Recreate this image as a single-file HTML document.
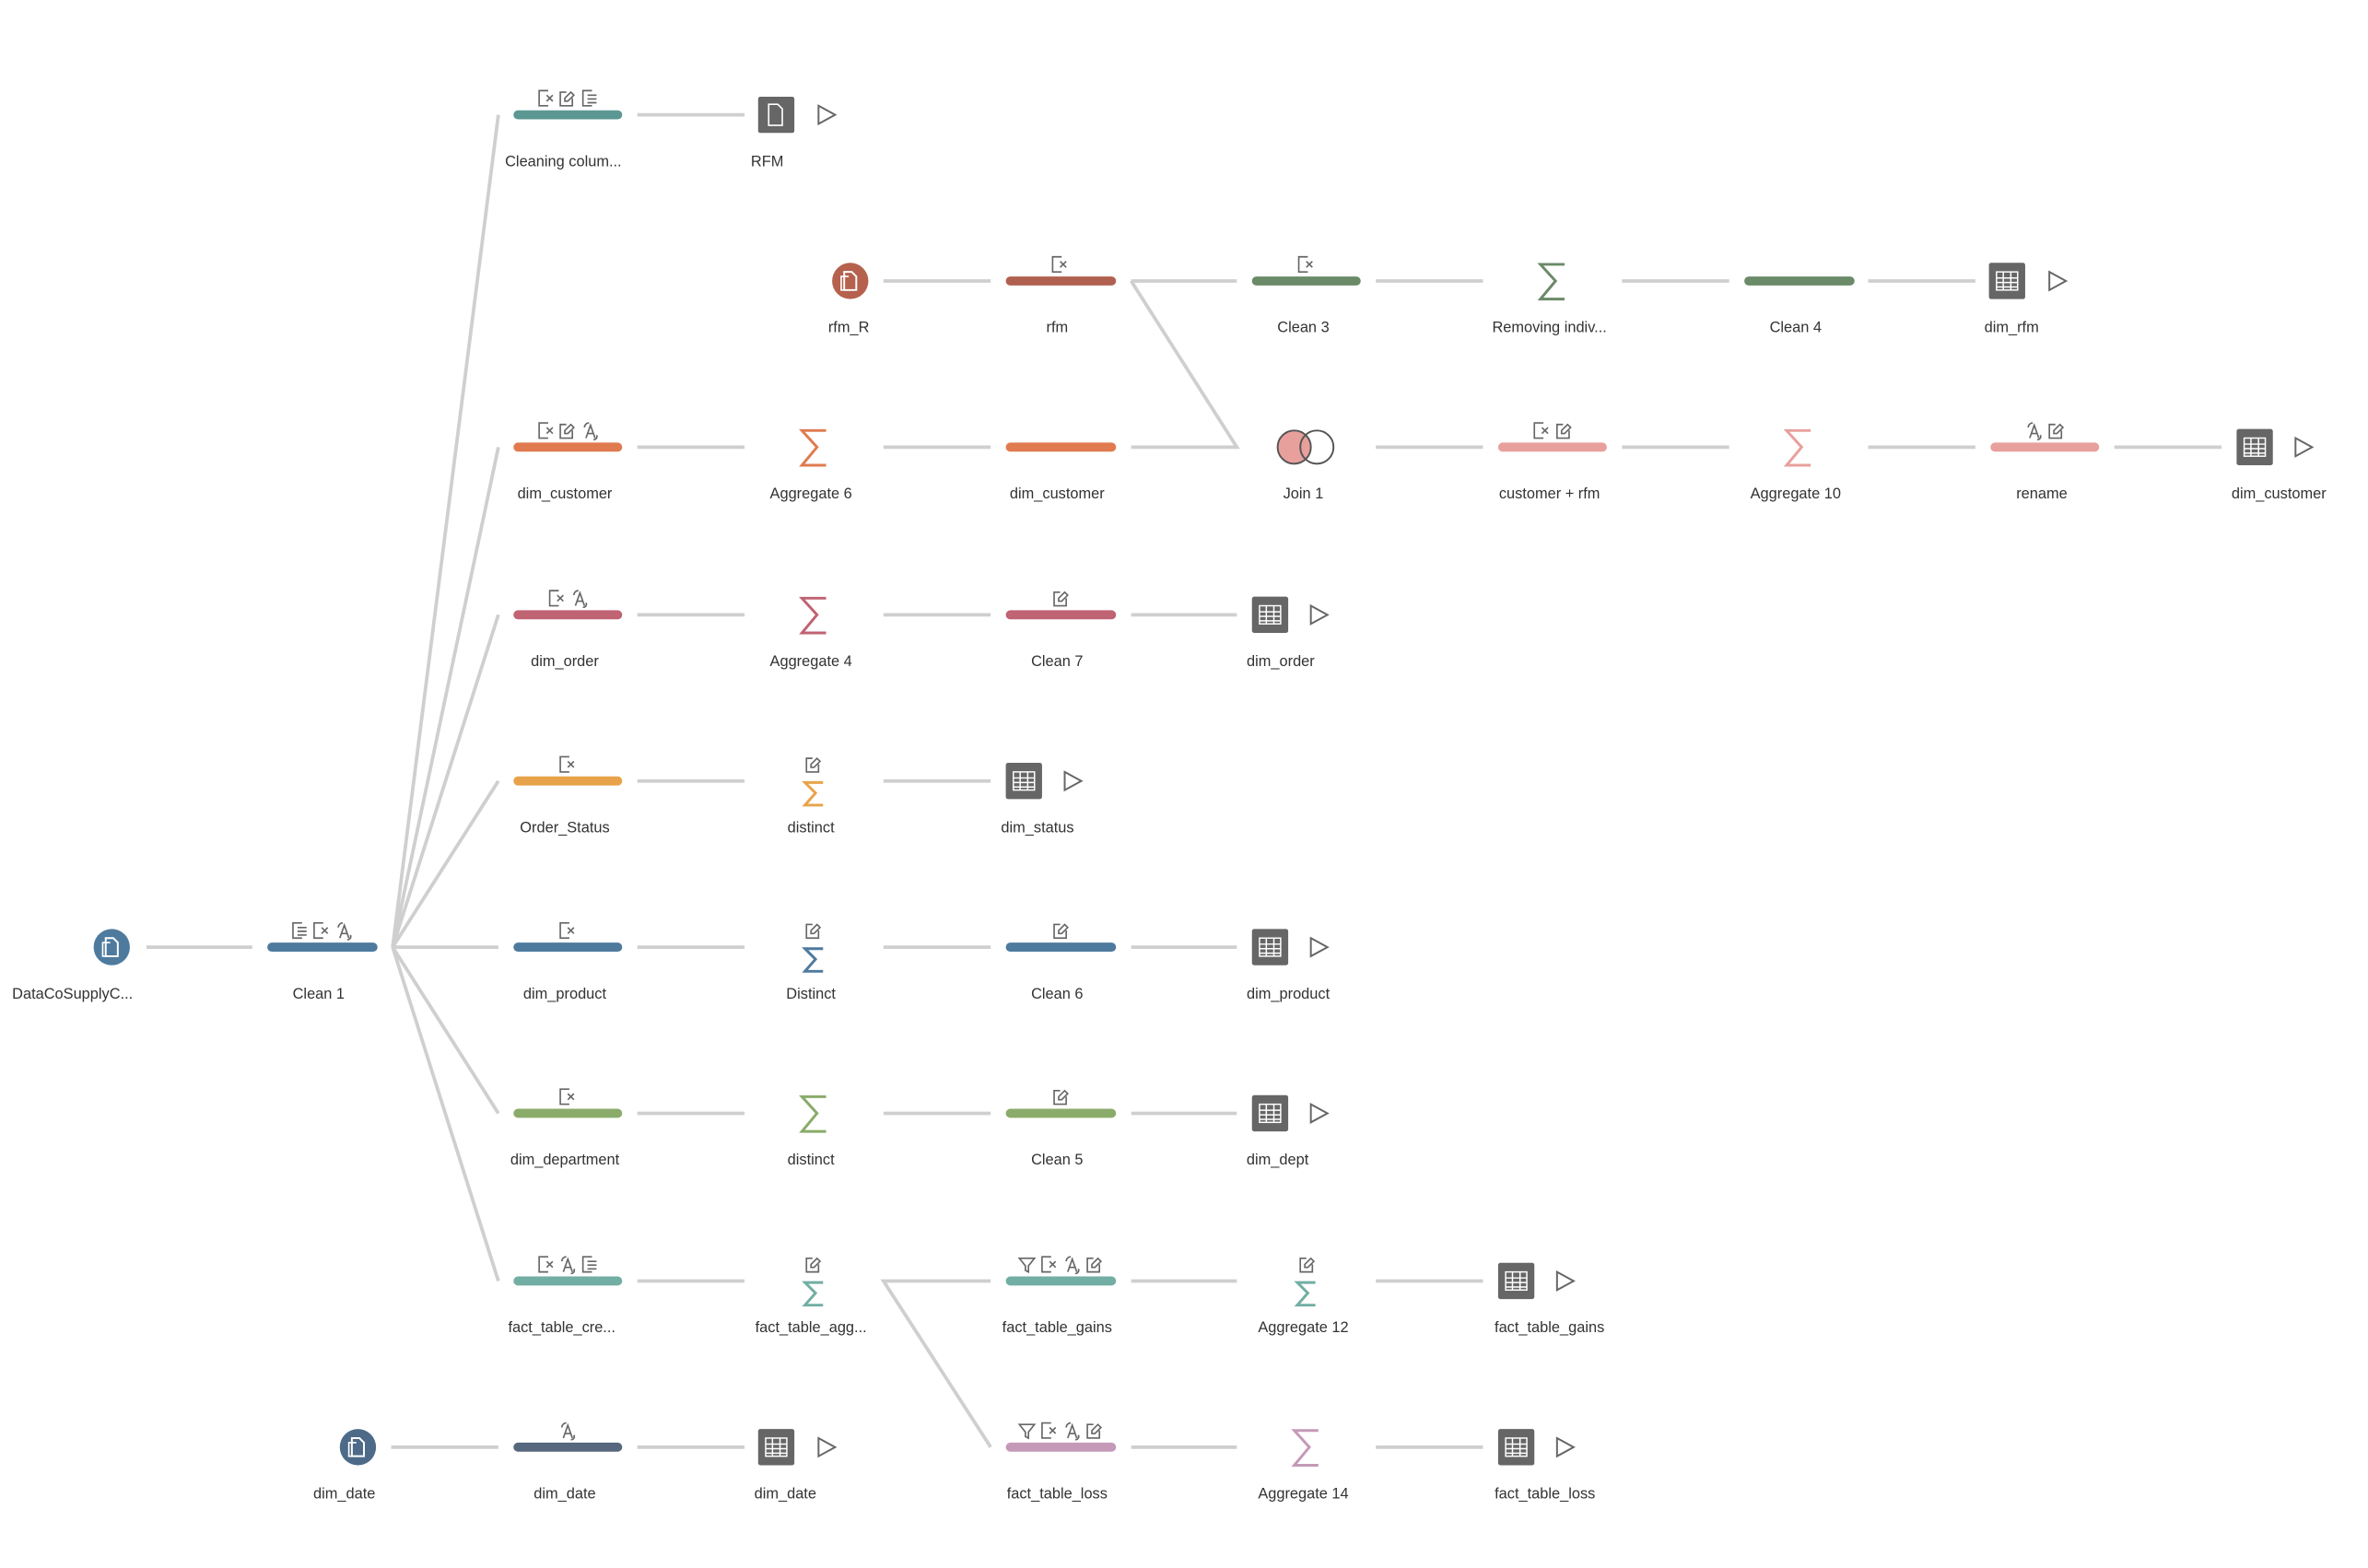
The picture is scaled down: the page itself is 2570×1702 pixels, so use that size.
<!DOCTYPE html>
<html><head><meta charset="utf-8"><style>
html,body{margin:0;padding:0;background:#fff;}
svg{display:block}
text{font-family:"Liberation Sans",sans-serif;font-size:10px;fill:#333;text-anchor:middle}
.c{stroke:#cfcfcf;stroke-width:2.3;fill:none}
.b{stroke-width:6;stroke-linecap:round;fill:none}
.i{stroke:#666;stroke-width:1;fill:none}
.s{fill:none;stroke-width:1.8;stroke-linejoin:miter}
</style></head><body>
<svg width="2570" height="1702" viewBox="0 0 1568 1038" preserveAspectRatio="none" xmlns="http://www.w3.org/2000/svg">
<defs>
<g id="ix" class="i"><path d="M6 0H0V10H6"/><path d="M5 3l4 4M9 3l-4 4"/></g>
<g id="ie" class="i"><path d="M5 1H0V10H9V6"/><path d="M3.5 7.5l5-6 1.5 1.5-5 6z"/></g>
<g id="il" class="i"><path d="M6 0H0V10H6"/><path d="M3 3h6M3 5.5h6M3 8h6"/></g>
<g id="ir" class="i"><path d="M2 10L5 1.5L8 10M3.2 7h3.6"/><path d="M1 3a3 3 0 0 1 3-3M9 8a2 2 0 0 1-2 3"/></g>
<g id="ip" class="i"><path d="M4 1H0V10H8V5"/><path d="M3 7l0-2 4-4 2 2-4 4z"/></g>
<g id="if" class="i"><path d="M0 1h10L6 6v4L4 9V6z"/></g>
<g id="out"><rect x="-12" y="-12" width="24" height="24" rx="1.5" fill="#666"/><g stroke="#fff" stroke-width="0.9" fill="none"><rect x="-7" y="-6" width="14" height="12"/><path d="M-7 -2h14M-7 1h14M-7 4h14M-2.5 -6v12M2.5 -6v12"/></g></g>
<polygon id="play" points="-5,-6 6,0 -5,6" fill="none" stroke="#666" stroke-width="1.2"/>
<g id="doc"><path d="M-4 -6h5l3 3v9h-8z" fill="none" stroke="#fff" stroke-width="1.2"/><path d="M-1 -3h-5v9h6" fill="none" stroke="#fff" stroke-width="1"/></g>
</defs>

<g class="c">
<line x1="97" y1="627" x2="167" y2="627"/>
<line x1="260" y1="627" x2="330" y2="627"/>
<line x1="260" y1="627" x2="330" y2="76"/>
<line x1="260" y1="627" x2="330" y2="296"/>
<line x1="260" y1="627" x2="330" y2="407"/>
<line x1="260" y1="627" x2="330" y2="517"/>
<line x1="260" y1="627" x2="330" y2="737"/>
<line x1="260" y1="627" x2="330" y2="848"/>
<line x1="422" y1="76" x2="493" y2="76"/>
<line x1="585" y1="186" x2="656" y2="186"/>
<line x1="749" y1="186" x2="819" y2="186"/>
<polyline points="749,186 819,296 749,296"/>
<line x1="911" y1="186" x2="982" y2="186"/>
<line x1="1074" y1="186" x2="1145" y2="186"/>
<line x1="1237" y1="186" x2="1308" y2="186"/>
<line x1="422" y1="296" x2="493" y2="296"/>
<line x1="585" y1="296" x2="656" y2="296"/>
<line x1="911" y1="296" x2="982" y2="296"/>
<line x1="1074" y1="296" x2="1145" y2="296"/>
<line x1="1237" y1="296" x2="1308" y2="296"/>
<line x1="1400" y1="296" x2="1471" y2="296"/>
<line x1="422" y1="407" x2="493" y2="407"/>
<line x1="585" y1="407" x2="656" y2="407"/>
<line x1="749" y1="407" x2="819" y2="407"/>
<line x1="422" y1="517" x2="493" y2="517"/>
<line x1="585" y1="517" x2="656" y2="517"/>
<line x1="422" y1="627" x2="493" y2="627"/>
<line x1="585" y1="627" x2="656" y2="627"/>
<line x1="749" y1="627" x2="819" y2="627"/>
<line x1="422" y1="737" x2="493" y2="737"/>
<line x1="585" y1="737" x2="656" y2="737"/>
<line x1="749" y1="737" x2="819" y2="737"/>
<line x1="422" y1="848" x2="493" y2="848"/>
<polyline points="656,848 585,848 656,958"/>
<line x1="749" y1="848" x2="819" y2="848"/>
<line x1="911" y1="848" x2="982" y2="848"/>
<line x1="259" y1="958" x2="330" y2="958"/>
<line x1="422" y1="958" x2="493" y2="958"/>
<line x1="749" y1="958" x2="819" y2="958"/>
<line x1="911" y1="958" x2="982" y2="958"/>
</g>

<g class="b">
<line x1="180" y1="627" x2="247" y2="627" stroke="#4e7a9e"/>
<line x1="343" y1="76" x2="409" y2="76" stroke="#5b9893"/>
<line x1="669" y1="186" x2="736" y2="186" stroke="#b0604f"/>
<line x1="832" y1="186" x2="898" y2="186" stroke="#6a8a68"/>
<line x1="1158" y1="186" x2="1225" y2="186" stroke="#6a8a68"/>
<line x1="343" y1="296" x2="409" y2="296" stroke="#e07b4f"/>
<line x1="669" y1="296" x2="736" y2="296" stroke="#e07b4f"/>
<line x1="995" y1="296" x2="1061" y2="296" stroke="#e8a09c"/>
<line x1="1321" y1="296" x2="1387" y2="296" stroke="#e8a09c"/>
<line x1="343" y1="407" x2="409" y2="407" stroke="#c06373"/>
<line x1="669" y1="407" x2="736" y2="407" stroke="#c06373"/>
<line x1="343" y1="517" x2="409" y2="517" stroke="#e8a34a"/>
<line x1="343" y1="627" x2="409" y2="627" stroke="#4e7a9e"/>
<line x1="669" y1="627" x2="736" y2="627" stroke="#4e7a9e"/>
<line x1="343" y1="737" x2="409" y2="737" stroke="#8aab6a"/>
<line x1="669" y1="737" x2="736" y2="737" stroke="#8aab6a"/>
<line x1="343" y1="848" x2="409" y2="848" stroke="#72aea3"/>
<line x1="669" y1="848" x2="736" y2="848" stroke="#72aea3"/>
<line x1="343" y1="958" x2="409" y2="958" stroke="#56677e"/>
<line x1="669" y1="958" x2="736" y2="958" stroke="#c49ab8"/>
</g>

<use href="#il" x="194" y="611"/><use href="#ix" x="208" y="611"/><use href="#ir" x="223" y="611"/>
<use href="#ix" x="357" y="60"/><use href="#ip" x="371" y="60"/><use href="#il" x="386" y="60"/>
<use href="#ix" x="697" y="170"/>
<use href="#ix" x="860" y="170"/>
<use href="#ix" x="357" y="280"/><use href="#ip" x="371" y="280"/><use href="#ir" x="386" y="280"/>
<use href="#ix" x="1016" y="280"/><use href="#ip" x="1031" y="280"/>
<use href="#ir" x="1342" y="280"/><use href="#ip" x="1357" y="280"/>
<use href="#ix" x="364" y="391"/><use href="#ir" x="379" y="391"/>
<use href="#ip" x="698" y="391"/>
<use href="#ix" x="371" y="501"/>
<use href="#ip" x="534" y="501"/>
<use href="#ix" x="371" y="611"/>
<use href="#ip" x="534" y="611"/>
<use href="#ip" x="698" y="611"/>
<use href="#ix" x="371" y="721"/>
<use href="#ip" x="698" y="721"/>
<use href="#ix" x="357" y="832"/><use href="#ir" x="371" y="832"/><use href="#il" x="386" y="832"/>
<use href="#ip" x="534" y="832"/>
<use href="#if" x="675" y="832"/><use href="#ix" x="690" y="832"/><use href="#ir" x="705" y="832"/><use href="#ip" x="720" y="832"/>
<use href="#ip" x="861" y="832"/>
<use href="#ir" x="371" y="942"/>
<use href="#if" x="675" y="942"/><use href="#ix" x="690" y="942"/><use href="#ir" x="705" y="942"/><use href="#ip" x="720" y="942"/>

<path class="s" stroke="#6a8a68" d="M1036 175H1020L1030 186L1020 198H1036"/>
<path class="s" stroke="#e07b4f" d="M547 285H531L541 296L531 308H547"/>
<path class="s" stroke="#e8a09c" d="M1199 285H1183L1193 296L1183 308H1199"/>
<path class="s" stroke="#c06373" d="M547 396H531L541 407L531 419H547"/>
<path class="s" stroke="#8aab6a" d="M547 726H531L541 737L531 749H547"/>
<path class="s" stroke="#c49ab8" d="M873 947H857L867 958L857 970H873"/>
<path class="s" stroke="#e8a34a" stroke-width="1.5" d="M545 518H533L540 525L533 533H545"/>
<path class="s" stroke="#4e7a9e" stroke-width="1.5" d="M545 628H533L540 635L533 643H545"/>
<path class="s" stroke="#72aea3" stroke-width="1.5" d="M545 849H533L540 856L533 864H545"/>
<path class="s" stroke="#72aea3" stroke-width="1.5" d="M871 849H859L866 856L859 864H871"/>

<circle cx="74" cy="627" r="12" fill="#4e7a9e"/><use href="#doc" x="74" y="627"/>
<circle cx="563" cy="186" r="12" fill="#b5614d"/><use href="#doc" x="563" y="186"/>
<circle cx="237" cy="958" r="12" fill="#4d6a88"/><use href="#doc" x="237" y="958"/>

<circle cx="857" cy="296" r="11" fill="#e8a09c" stroke="#555" stroke-width="1.2"/>
<circle cx="872" cy="296" r="11" fill="none" stroke="#555" stroke-width="1.2"/>

<rect x="502" y="64" width="24" height="24" rx="1.5" fill="#666"/>
<path d="M509 69h6l3 3v11h-9z" fill="none" stroke="#fff" stroke-width="1"/>
<use href="#play" x="547" y="76"/>
<use href="#out" x="1329" y="186"/><use href="#play" x="1362" y="186"/>
<use href="#out" x="1493" y="296"/><use href="#play" x="1525" y="296"/>
<use href="#out" x="841" y="407"/><use href="#play" x="873" y="407"/>
<use href="#out" x="678" y="517"/><use href="#play" x="710" y="517"/>
<use href="#out" x="841" y="627"/><use href="#play" x="873" y="627"/>
<use href="#out" x="841" y="737"/><use href="#play" x="873" y="737"/>
<use href="#out" x="1004" y="848"/><use href="#play" x="1036" y="848"/>
<use href="#out" x="514" y="958"/><use href="#play" x="547" y="958"/>
<use href="#out" x="1004" y="958"/><use href="#play" x="1036" y="958"/>

<text x="373" y="110">Cleaning colum...</text>
<text x="508" y="110">RFM</text>
<text x="562" y="220">rfm_R</text>
<text x="700" y="220">rfm</text>
<text x="863" y="220">Clean 3</text>
<text x="1026" y="220">Removing indiv...</text>
<text x="1189" y="220">Clean 4</text>
<text x="1332" y="220">dim_rfm</text>
<text x="374" y="330">dim_customer</text>
<text x="537" y="330">Aggregate 6</text>
<text x="700" y="330">dim_customer</text>
<text x="863" y="330">Join 1</text>
<text x="1026" y="330">customer + rfm</text>
<text x="1189" y="330">Aggregate 10</text>
<text x="1352" y="330">rename</text>
<text x="1509" y="330">dim_customer</text>
<text x="374" y="441">dim_order</text>
<text x="537" y="441">Aggregate 4</text>
<text x="700" y="441">Clean 7</text>
<text x="848" y="441">dim_order</text>
<text x="374" y="551">Order_Status</text>
<text x="537" y="551">distinct</text>
<text x="687" y="551">dim_status</text>
<text x="48" y="661">DataCoSupplyC...</text>
<text x="211" y="661">Clean 1</text>
<text x="374" y="661">dim_product</text>
<text x="537" y="661">Distinct</text>
<text x="700" y="661">Clean 6</text>
<text x="853" y="661">dim_product</text>
<text x="374" y="771">dim_department</text>
<text x="537" y="771">distinct</text>
<text x="700" y="771">Clean 5</text>
<text x="846" y="771">dim_dept</text>
<text x="372" y="882">fact_table_cre...</text>
<text x="537" y="882">fact_table_agg...</text>
<text x="700" y="882">fact_table_gains</text>
<text x="863" y="882">Aggregate 12</text>
<text x="1026" y="882">fact_table_gains</text>
<text x="228" y="992">dim_date</text>
<text x="374" y="992">dim_date</text>
<text x="520" y="992">dim_date</text>
<text x="700" y="992">fact_table_loss</text>
<text x="863" y="992">Aggregate 14</text>
<text x="1023" y="992">fact_table_loss</text>
</svg>
</body></html>
